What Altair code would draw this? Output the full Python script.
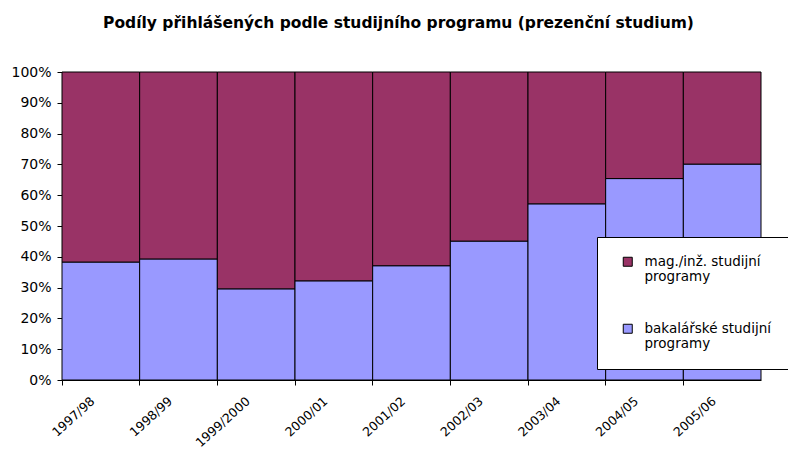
import altair as alt
import pandas as pd

years = ["1997/98", "1998/99", "1999/2000", "2000/01", "2001/02",
         "2002/03", "2003/04", "2004/05", "2005/06"]
bakalarske = [38.3, 39.3, 29.6, 32.2, 37.1, 45.1, 57.2, 65.4, 70.1]
magisterske = [61.7, 60.7, 70.4, 67.8, 62.9, 54.9, 42.8, 34.6, 29.9]
series = ["mag./inž. studijní programy", "bakalářské studijní programy"]
colors = ["#993366", "#9999FF"]
y_ticks = [0, 10, 20, 30, 40, 50, 60, 70, 80, 90, 100]

rows = []
for i, y in enumerate(years):
    rows.append({"rok": y, "serie": series[1], "podil": bakalarske[i], "poradi": 0})
    rows.append({"rok": y, "serie": series[0], "podil": magisterske[i], "poradi": 1})
df = pd.DataFrame(rows)

FONT = "DejaVu Sans"

chart = alt.Chart(df).mark_bar(stroke="black", strokeWidth=1, opacity=1).encode(
    x=alt.X("rok:N", sort=years, title=None,
            scale=alt.Scale(paddingInner=0, paddingOuter=0),
            axis=alt.Axis(labelAngle=-42, bandPosition=0, labelOffset=-8,
                          labelPadding=14, labelFont=FONT, labelFontSize=12.5,
                          labelColor="black", domainColor="black",
                          tickColor="black", tickSize=5, labelAlign="right",
                          labelBaseline="middle")),
    y=alt.Y("podil:Q", stack="zero", title=None,
            scale=alt.Scale(domain=[0, 100], nice=False),
            axis=alt.Axis(values=y_ticks, labelExpr="datum.value + '%'",
                          grid=False, labelFont=FONT, labelFontSize=14,
                          labelColor="black", domainColor="black",
                          tickColor="black", tickSize=5, labelPadding=6)),
    color=alt.Color("serie:N", title=None,
                    scale=alt.Scale(domain=series, range=colors),
                    legend=alt.Legend(
                        orient="none", legendX=535, legendY=165,
                        symbolType="square", symbolSize=81,
                        symbolStrokeColor="black", symbolStrokeWidth=1,
                        symbolOpacity=1, symbolOffset=6,
                        labelFont=FONT, labelFontSize=13.5, labelColor="black",
                        labelBaseline="middle", labelOffset=10,
                        labelExpr="[slice(datum.label, 0, indexof(datum.label, ' programy')), 'programy']",
                        padding=18, rowPadding=37,
                        strokeColor="black", fillColor="white",
                        labelLimit=300)),
    order=alt.Order("poradi:Q"),
).properties(
    width=699, height=308,
    autosize="none",
    padding={"left": 54, "top": 64, "right": 27, "bottom": 69},
    title=alt.Title("Podíly přihlášených podle studijního programu (prezenční studium)",
                    font=FONT, fontSize=15.5, fontWeight="bold", color="black",
                    anchor="middle", dx=-13, offset=22, baseline="alphabetic"),
).configure_view(stroke=None)

chart.save("out.html", embed_options={"renderer": "svg", "actions": False})
